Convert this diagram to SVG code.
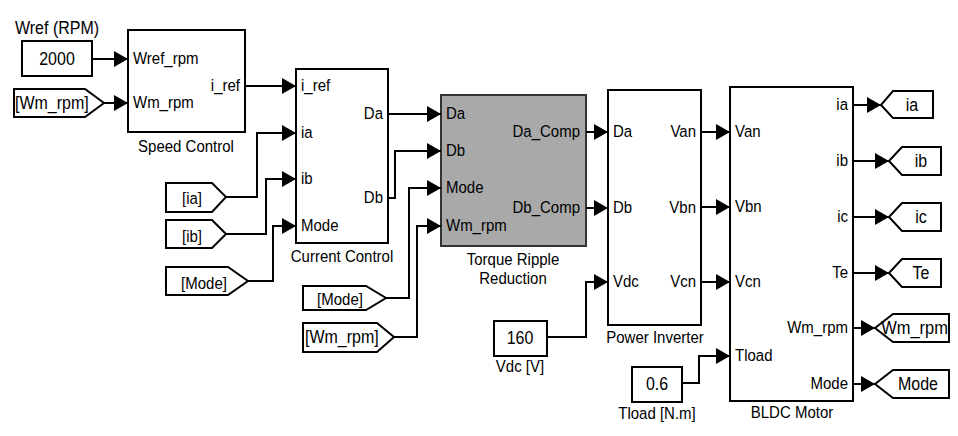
<svg xmlns="http://www.w3.org/2000/svg" width="958" height="436" viewBox="0 0 958 436">
<defs>
<style>
text{font-family:"Liberation Sans",Arial,sans-serif;font-size:15px;fill:#000}
.blk{fill:#fff;stroke:#000;stroke-width:2}
.gray{fill:#a9a9a9;stroke:#333;stroke-width:2}
.tag{fill:#fff;stroke:#000;stroke-width:2;stroke-linejoin:miter}
.c{fill:none;stroke:#000;stroke-width:2;marker-end:url(#ah)}
.m{text-anchor:middle}
.e{text-anchor:end}
.big{font-size:16px}
</style>
<marker id="ah" markerUnits="userSpaceOnUse" markerWidth="14" markerHeight="16" refX="14" refY="8" orient="auto">
<path d="M0,0 L14,8 L0,16 z" fill="#000"/>
</marker>
</defs>
<rect width="958" height="436" fill="#fff"/>

<g id="wref">
<text transform="translate(15,34) scale(1,1.12)" class="big">Wref (RPM)</text>
<rect class="blk" x="22" y="41" width="70" height="35"/>
<text transform="translate(57,65) scale(1,1.12)" class="m big">2000</text>
</g>

<g id="from_wm_rpm1">
<path class="tag" d="M14,89 L85,89 L104,103 L85,117 L14,117 z"/>
<text transform="translate(15,109) scale(1,1.12)" class="big">[Wm_rpm]</text>
</g>

<g id="speed_control">
<rect class="blk" x="128" y="30" width="117" height="102"/>
<text transform="translate(133,64) scale(1,1.12)">Wref_rpm</text>
<text transform="translate(133,108) scale(1,1.12)">Wm_rpm</text>
<text transform="translate(240,91) scale(1,1.12)" class="e">i_ref</text>
<text transform="translate(186,152) scale(1,1.12)" class="m">Speed Control</text>
</g>

<g id="from_ia">
<path class="tag" d="M166,183 L212,183 L226,197 L212,212 L166,212 z"/>
<text transform="translate(192,204) scale(1,1.12)" class="m">[ia]</text>
</g>
<g id="from_ib">
<path class="tag" d="M166,220 L212,220 L226,234 L212,248 L166,248 z"/>
<text transform="translate(192,242) scale(1,1.12)" class="m">[ib]</text>
</g>
<g id="from_mode1">
<path class="tag" d="M166,267 L228,267 L248,281 L228,295 L166,295 z"/>
<text transform="translate(204,289) scale(1,1.12)" class="m">[Mode]</text>
</g>

<g id="current_control">
<rect class="blk" x="296" y="69" width="92" height="174"/>
<text transform="translate(301,91) scale(1,1.12)">i_ref</text>
<text transform="translate(301,138) scale(1,1.12)">ia</text>
<text transform="translate(301,184) scale(1,1.12)">ib</text>
<text transform="translate(301,231) scale(1,1.12)">Mode</text>
<text transform="translate(383,119) scale(1,1.12)" class="e">Da</text>
<text transform="translate(383,203) scale(1,1.12)" class="e">Db</text>
<text transform="translate(342,262) scale(1,1.12)" class="m">Current Control</text>
</g>

<g id="from_mode2">
<path class="tag" d="M303,286 L366,286 L386,298 L366,310 L303,310 z"/>
<text transform="translate(340,305) scale(1,1.12)" class="m">[Mode]</text>
</g>
<g id="from_wm_rpm2">
<path class="tag" d="M303,323 L377,323 L394,337 L377,352 L303,352 z"/>
<text transform="translate(305,343) scale(1,1.12)" class="big">[Wm_rpm]</text>
</g>

<g id="torque_ripple">
<rect class="gray" x="441" y="95" width="145" height="151"/>
<text transform="translate(446,119) scale(1,1.12)">Da</text>
<text transform="translate(446,156) scale(1,1.12)">Db</text>
<text transform="translate(446,193) scale(1,1.12)">Mode</text>
<text transform="translate(446,231) scale(1,1.12)">Wm_rpm</text>
<text transform="translate(580,137) scale(1,1.12)" class="e">Da_Comp</text>
<text transform="translate(580,213) scale(1,1.12)" class="e">Db_Comp</text>
<text transform="translate(513,265) scale(1,1.15)" class="m">Torque Ripple</text>
<text transform="translate(513,284) scale(1,1.15)" class="m">Reduction</text>
</g>

<g id="vdc">
<rect class="blk" x="494" y="321" width="53" height="35"/>
<text transform="translate(520,344) scale(1,1.12)" class="m big">160</text>
<text transform="translate(520,372) scale(1,1.12)" class="m">Vdc [V]</text>
</g>

<g id="power_inverter">
<rect class="blk" x="608" y="90" width="93" height="235"/>
<text transform="translate(613,137) scale(1,1.12)">Da</text>
<text transform="translate(613,213) scale(1,1.12)">Db</text>
<text transform="translate(613,287) scale(1,1.12)">Vdc</text>
<text transform="translate(696,137) scale(1,1.12)" class="e">Van</text>
<text transform="translate(696,213) scale(1,1.12)" class="e">Vbn</text>
<text transform="translate(696,287) scale(1,1.12)" class="e">Vcn</text>
<text transform="translate(655,343) scale(1,1.12)" class="m">Power Inverter</text>
</g>

<g id="tload">
<rect class="blk" x="632" y="367" width="50" height="35"/>
<text transform="translate(657,390) scale(1,1.12)" class="m big">0.6</text>
<text transform="translate(657,419) scale(1,1.12)" class="m">Tload [N.m]</text>
</g>

<g id="bldc_motor">
<rect class="blk" x="730" y="87" width="123" height="314"/>
<text transform="translate(735,137) scale(1,1.12)">Van</text>
<text transform="translate(735,212) scale(1,1.12)">Vbn</text>
<text transform="translate(735,287) scale(1,1.12)">Vcn</text>
<text transform="translate(735,361) scale(1,1.12)">Tload</text>
<text transform="translate(848,110) scale(1,1.12)" class="e">ia</text>
<text transform="translate(848,166) scale(1,1.12)" class="e">ib</text>
<text transform="translate(848,222) scale(1,1.12)" class="e">ic</text>
<text transform="translate(848,278) scale(1,1.12)" class="e">Te</text>
<text transform="translate(848,333) scale(1,1.12)" class="e">Wm_rpm</text>
<text transform="translate(848,389) scale(1,1.12)" class="e">Mode</text>
<text transform="translate(792,418) scale(1,1.12)" class="m">BLDC Motor</text>
</g>

<g id="goto_ia">
<path class="tag" d="M881,105 L893,91 L933,91 L933,118 L893,118 z"/>
<text transform="translate(912,111) scale(1,1.12)" class="m big">ia</text>
</g>
<g id="goto_ib">
<path class="tag" d="M889,161 L902,147 L941,147 L941,175 L902,175 z"/>
<text transform="translate(921,167) scale(1,1.12)" class="m big">ib</text>
</g>
<g id="goto_ic">
<path class="tag" d="M889,217 L902,203 L941,203 L941,231 L902,231 z"/>
<text transform="translate(921,223) scale(1,1.12)" class="m big">ic</text>
</g>
<g id="goto_te">
<path class="tag" d="M889,273 L902,259 L941,259 L941,287 L902,287 z"/>
<text transform="translate(921,279) scale(1,1.12)" class="m big">Te</text>
</g>
<g id="goto_wm_rpm">
<path class="tag" d="M875,328 L893,314 L949,314 L949,342 L893,342 z"/>
<text transform="translate(948,334) scale(1,1.12)" class="e" style="font-size:16.5px">Wm_rpm</text>
</g>
<g id="goto_mode">
<path class="tag" d="M875,384 L893,370 L949,370 L949,398 L893,398 z"/>
<text transform="translate(918,390) scale(1,1.12)" class="m big">Mode</text>
</g>

<g id="connectors">
<path class="c" d="M92,59 H128"/>
<path class="c" d="M104,103 H128"/>
<path class="c" d="M245,86 H296"/>
<path class="c" d="M226,197 H257 V133 H296"/>
<path class="c" d="M226,234 H266 V179 H296"/>
<path class="c" d="M248,281 H273 V226 H296"/>
<path class="c" d="M388,114 H441"/>
<path class="c" d="M388,198 H395 V151 H441"/>
<path class="c" d="M386,298 H409 V188 H441"/>
<path class="c" d="M394,337 H417 V226 H441"/>
<path class="c" d="M586,132 H608"/>
<path class="c" d="M586,208 H608"/>
<path class="c" d="M547,337 H586 V282 H608"/>
<path class="c" d="M701,132 H730"/>
<path class="c" d="M701,207 H730"/>
<path class="c" d="M701,282 H730"/>
<path class="c" d="M682,383 H699 V356 H730"/>
<path class="c" d="M853,105 H881"/>
<path class="c" d="M853,161 H889"/>
<path class="c" d="M853,217 H889"/>
<path class="c" d="M853,273 H889"/>
<path class="c" d="M853,328 H875"/>
<path class="c" d="M853,384 H875"/>
</g>
</svg>
